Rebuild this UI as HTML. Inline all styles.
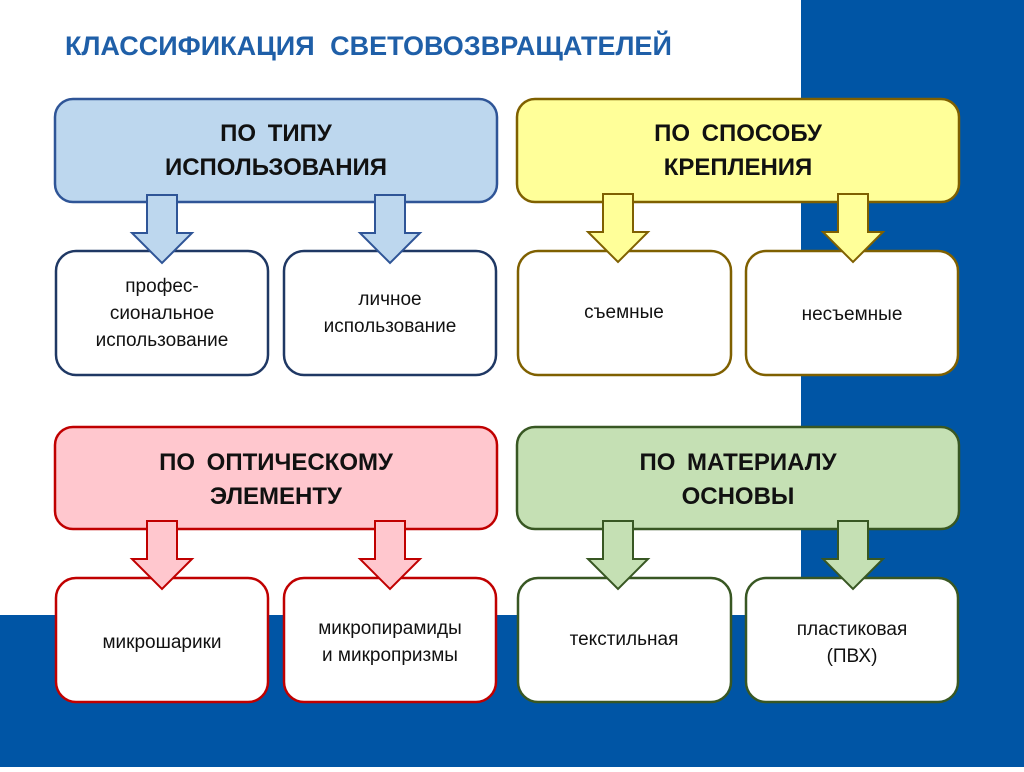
<!DOCTYPE html>
<html><head><meta charset="utf-8"><style>
html,body{margin:0;padding:0}
body{width:1024px;height:767px;overflow:hidden;background:#fff;font-family:"Liberation Sans",sans-serif}
</style></head><body>
<svg width="1024" height="767" xmlns="http://www.w3.org/2000/svg" font-family="Liberation Sans, sans-serif">
<rect x="801" y="0" width="223" height="767" fill="#0055a5"/>
<rect x="0" y="615" width="1024" height="152" fill="#0055a5"/>
<text x="65" y="55" font-size="27" font-weight="bold" fill="#1f5fa8" word-spacing="8">КЛАССИФИКАЦИЯ СВЕТОВОЗВРАЩАТЕЛЕЙ</text>

<rect x="55" y="99" width="442" height="103" rx="18" fill="#bdd7ee" stroke="#2f5597" stroke-width="2.5"/>
<rect x="517" y="99" width="442" height="103" rx="18" fill="#ffff99" stroke="#7f6000" stroke-width="2.5"/>
<rect x="55" y="427" width="442" height="102" rx="18" fill="#ffc7ce" stroke="#c00000" stroke-width="2.5"/>
<rect x="517" y="427" width="442" height="102" rx="18" fill="#c5e0b4" stroke="#385723" stroke-width="2.5"/>
<g font-size="24" font-weight="bold" fill="#111" text-anchor="middle" word-spacing="5">
<text x="276" y="141">ПО ТИПУ</text><text x="276" y="175">ИСПОЛЬЗОВАНИЯ</text>
<text x="738" y="141">ПО СПОСОБУ</text><text x="738" y="175">КРЕПЛЕНИЯ</text>
<text x="276" y="470">ПО ОПТИЧЕСКОМУ</text><text x="276" y="504">ЭЛЕМЕНТУ</text>
<text x="738" y="470">ПО МАТЕРИАЛУ</text><text x="738" y="504">ОСНОВЫ</text>
</g>

<g stroke-width="2.5" fill="#fff">
<rect x="56" y="251" width="212" height="124" rx="20" stroke="#1f3864"/>
<rect x="284" y="251" width="212" height="124" rx="20" stroke="#1f3864"/>
<rect x="518" y="251" width="213" height="124" rx="20" stroke="#7f6000"/>
<rect x="746" y="251" width="212" height="124" rx="20" stroke="#7f6000"/>
<rect x="56" y="578" width="212" height="124" rx="20" stroke="#c00000"/>
<rect x="284" y="578" width="212" height="124" rx="20" stroke="#c00000"/>
<rect x="518" y="578" width="213" height="124" rx="20" stroke="#385723"/>
<rect x="746" y="578" width="212" height="124" rx="20" stroke="#385723"/>
</g>

<defs>
<path id="ar" d="M-15,0 H15 V38 H30 L0,68 L-30,38 H-15 Z"/>
</defs>
<g stroke-width="2">
<use href="#ar" x="162" y="195" fill="#bdd7ee" stroke="#2f5597"/>
<use href="#ar" x="390" y="195" fill="#bdd7ee" stroke="#2f5597"/>
<use href="#ar" x="618" y="194" fill="#ffff99" stroke="#7f6000"/>
<use href="#ar" x="853" y="194" fill="#ffff99" stroke="#7f6000"/>
<use href="#ar" x="162" y="521" fill="#ffc7ce" stroke="#c00000"/>
<use href="#ar" x="390" y="521" fill="#ffc7ce" stroke="#c00000"/>
<use href="#ar" x="618" y="521" fill="#c5e0b4" stroke="#385723"/>
<use href="#ar" x="853" y="521" fill="#c5e0b4" stroke="#385723"/>
</g>

<g font-size="19" fill="#111" text-anchor="middle">
<text x="162" y="292">профес-</text><text x="162" y="319">сиональное</text><text x="162" y="346">использование</text>
<text x="390" y="305">личное</text><text x="390" y="332">использование</text>
<text x="624" y="318">съемные</text>
<text x="852" y="320">несъемные</text>
<text x="162" y="648">микрошарики</text>
<text x="390" y="634">микропирамиды</text><text x="390" y="661">и микропризмы</text>
<text x="624" y="645">текстильная</text>
<text x="852" y="635">пластиковая</text><text x="852" y="662">(ПВХ)</text>
</g>
</svg>
</body></html>
